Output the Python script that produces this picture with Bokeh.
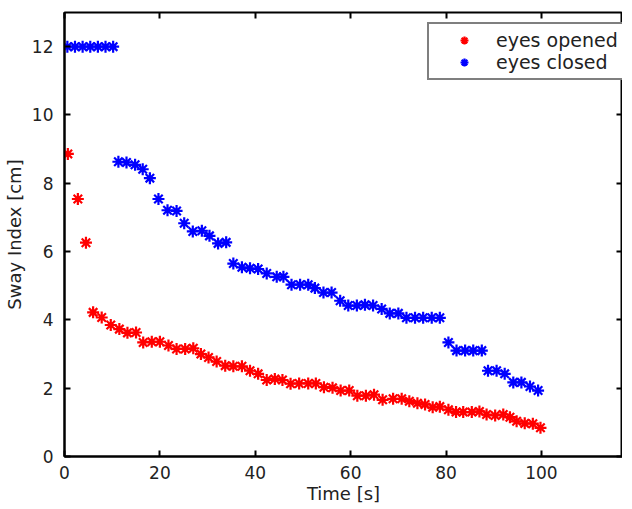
from bokeh.plotting import figure
from bokeh.models import LinearAxis, FixedTicker, Range1d, CustomJSTickFormatter
from bokeh.embed import file_html
from bokeh.resources import INLINE

# eyes opened (red)
open_x = [0.7, 2.8, 4.5, 6.0, 7.8, 9.7, 11.5, 13.2, 15.0, 16.5, 18.3, 20.0, 21.8,
          23.5, 25.3, 27.0, 28.6, 30.2, 31.9, 33.7, 35.4, 37.2, 38.9,
          40.6, 42.4, 44.1, 45.7, 47.4, 49.2, 51.1, 52.7, 54.4, 56.2,
          57.9, 59.7, 61.4, 63.2, 64.9, 66.7,
          68.9, 70.7, 72.3, 74.0, 75.6, 77.2, 78.7, 80.5, 82.1, 83.6,
          85.4, 87.0, 88.5, 90.3, 92.0, 93.4, 94.8, 96.5, 98.2, 99.8]
open_y = [8.86, 7.54, 6.26, 4.22, 4.07, 3.85, 3.73, 3.62, 3.63, 3.34, 3.36, 3.36, 3.25,
          3.15, 3.15, 3.17, 3.00, 2.90, 2.78, 2.66, 2.64, 2.64, 2.51,
          2.42, 2.24, 2.27, 2.24, 2.13, 2.14, 2.14, 2.14, 2.03, 2.01,
          1.93, 1.93, 1.78, 1.78, 1.81, 1.66,
          1.69, 1.69, 1.62, 1.56, 1.52, 1.44, 1.46, 1.37, 1.30, 1.30,
          1.30, 1.32, 1.23, 1.20, 1.23, 1.15, 1.03, 0.97, 0.96, 0.84]

# eyes closed (blue)
closed_x = [0.6, 2.2, 3.8, 5.4, 7.0, 8.6, 10.2,
            11.3, 13.0, 14.8, 16.4, 17.9, 19.7, 21.6, 23.5, 25.1, 26.9,
            28.8, 30.4, 32.2, 33.9, 35.4, 37.2, 38.9, 40.6, 42.4, 44.5,
            45.9, 47.6, 49.4, 51.1, 52.5, 54.3, 56.0, 57.8, 59.5, 61.3,
            63.0, 64.7, 66.5, 68.2, 70.0, 71.7, 73.5, 75.2, 77.0, 78.7,
            80.5, 82.2, 84.0, 85.7, 87.5, 88.8, 90.6, 92.3, 94.1, 95.8, 97.6, 99.3]
closed_y = [12.0, 12.0, 12.0, 12.0, 12.0, 12.0, 12.0,
            8.63, 8.61, 8.54, 8.41, 8.15, 7.54, 7.21, 7.19, 6.83, 6.59,
            6.61, 6.46, 6.24, 6.27, 5.65, 5.54, 5.51, 5.49, 5.36, 5.26,
            5.26, 5.03, 5.03, 5.03, 4.93, 4.80, 4.80, 4.56, 4.42, 4.42,
            4.44, 4.42, 4.32, 4.19, 4.19, 4.06, 4.06, 4.06, 4.06, 4.06,
            3.34, 3.10, 3.10, 3.10, 3.10, 2.51, 2.51, 2.42, 2.17, 2.17, 2.05, 1.93]

x_ticks = [0, 20, 40, 60, 80, 100]
y_ticks = [0, 2, 4, 6, 8, 10, 12]

FONT = "DejaVu Sans"

p = figure(frame_width=558, frame_height=444, output_backend="svg", toolbar_location=None,
           x_range=Range1d(0, 117.0), y_range=Range1d(0, 13),
           min_border_left=56, min_border_top=12, min_border_right=0, min_border_bottom=47,
           x_axis_label="Time [s]", y_axis_label="Sway Index [cm]")
p.xgrid.visible = False
p.ygrid.visible = False
p.outline_line_color = "black"
p.outline_line_width = 2
p.background_fill_color = "white"
p.border_fill_color = "white"

p.scatter(open_x, open_y, marker="asterisk", size=12, line_width=2.2, color="#ff0000",
          legend_label="eyes opened")
p.scatter(closed_x, closed_y, marker="asterisk", size=12, line_width=2.2, color="#0000ff",
          legend_label="eyes closed")

for ax in (p.xaxis[0], p.yaxis[0]):
    ax.major_tick_in = 6
    ax.major_tick_out = 0
    ax.minor_tick_line_color = None
    ax.axis_line_width = 2
    ax.major_tick_line_width = 2
    ax.major_label_text_font = FONT
    ax.major_label_text_font_size = "17px"
    ax.major_label_text_color = "#222222"
    ax.axis_label_text_font = FONT
    ax.axis_label_text_font_size = "18px"
    ax.axis_label_text_font_style = "normal"
    ax.axis_label_text_color = "#222222"
p.xaxis[0].ticker = FixedTicker(ticks=x_ticks)
p.yaxis[0].ticker = FixedTicker(ticks=y_ticks)
p.xaxis[0].major_label_standoff = 9
p.yaxis[0].major_label_standoff = 11
p.xaxis[0].axis_label_standoff = 1
p.yaxis[0].axis_label_standoff = 4

blank = CustomJSTickFormatter(code="return ''")
for side, ticks in (("right", y_ticks), ("above", x_ticks)):
    ax = LinearAxis(ticker=FixedTicker(ticks=ticks), formatter=blank)
    ax.major_tick_in = 6
    ax.major_tick_out = 0
    ax.minor_tick_line_color = None
    ax.major_tick_line_width = 2
    ax.axis_line_color = None
    ax.major_label_standoff = 0
    ax.major_label_text_font_size = "1px"
    p.add_layout(ax, side)

lg = p.legend[0]
lg.location = (363, 376)
lg.border_line_color = "black"
lg.border_line_width = 2
lg.label_text_font = FONT
lg.label_text_font_size = "19px"
lg.label_text_color = "#222222"
lg.padding = 5
lg.spacing = 0
lg.glyph_width = 60
lg.label_standoff = 2
lg.margin = 0
lg.background_fill_alpha = 1

open("out.html", "w").write(file_html(p, INLINE))
